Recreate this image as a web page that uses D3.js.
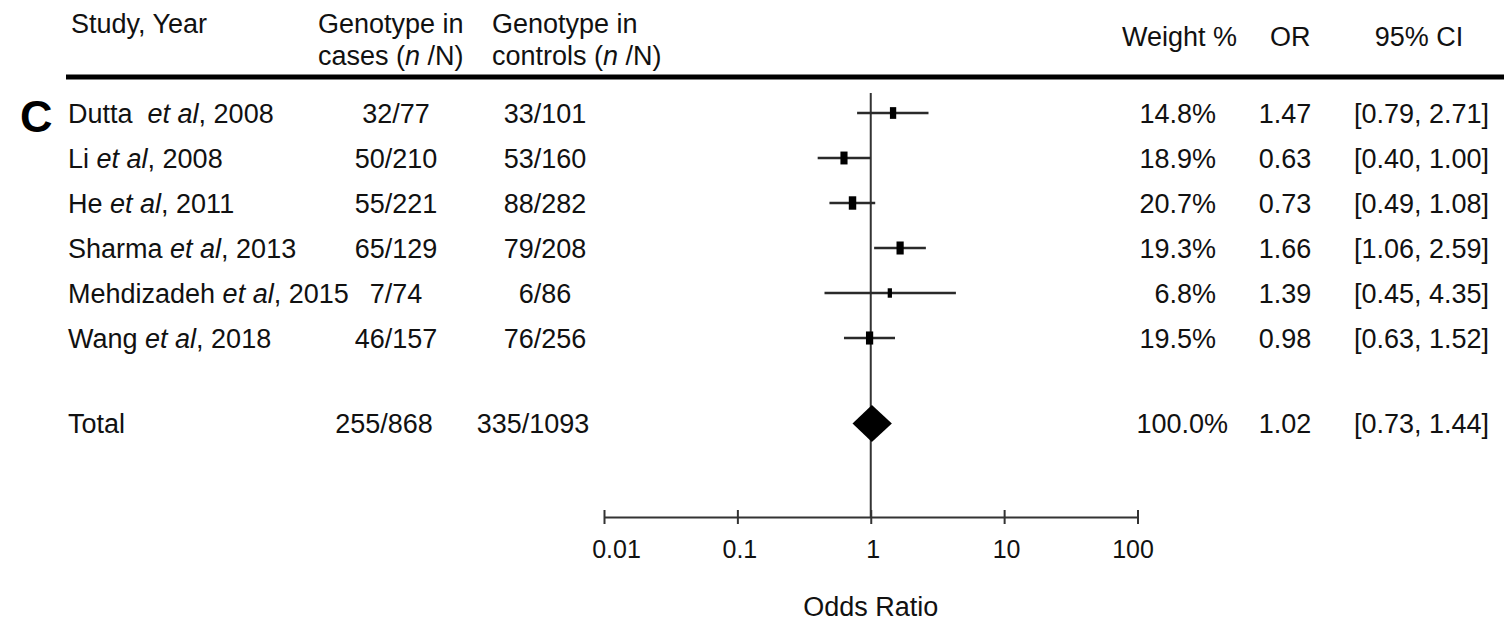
<!DOCTYPE html>
<html lang="en">
<head>
    <meta charset="utf-8">
    <title>Forest plot C</title>
    <script src="https://d3js.org/d3.v7.min.js"></script>
    <style>
        body {
            margin: 0;
            padding: 0;
            background: #fff;
        }
        svg text {
            font-family: Arial, "Liberation Sans", sans-serif;
            font-size: 27px;
            fill: #111;
            white-space: pre;
        }
        .axis text {
            font-size: 25px;
        }
    </style>
</head>
<body>
<svg id="chart"></svg>
<script>
    // study rows
    const authors = ["Dutta ", "Li", "He", "Sharma", "Mehdizadeh", "Wang"];
    const years = [2008, 2008, 2011, 2013, 2015, 2018];
    const caseEvents = [32, 50, 55, 65, 7, 46];
    const caseTotals = [77, 210, 221, 129, 74, 157];
    const ctrlEvents = [33, 53, 88, 79, 6, 76];
    const ctrlTotals = [101, 160, 282, 208, 86, 256];
    const weights = [14.8, 18.9, 20.7, 19.3, 6.8, 19.5];
    const oddsRatios = [1.47, 0.63, 0.73, 1.66, 1.39, 0.98];
    const ciLow = [0.79, 0.40, 0.49, 1.06, 0.45, 0.63];
    const ciHigh = [2.71, 1.00, 1.08, 2.59, 4.35, 1.52];

    // pooled estimate
    const pooledOR = 1.02;
    const pooledLow = 0.73;
    const pooledHigh = 1.44;
    const pooledWeight = 100.0;

    const axisTicks = [0.01, 0.1, 1, 10, 100];

    const width = 1504;
    const height = 622;

    const svg = d3.select("#chart")
        .attr("width", width)
        .attr("height", height);

    const x = d3.scaleLog().domain([0.01, 100]).range([604, 1137.5]);
    const y = d3.scaleLinear().domain([0, 1]).range([113, 158]);
    const totalRow = 6.9;
    const axisY = 517;

    const col = {
        study: 68,
        cases: 396,
        controls: 545,
        weight: 1216,
        or: 1285,
        ci: 1489
    };

    const fmt2 = d3.format(".2f");
    const fmt1 = d3.format(".1f");

    // panel letter
    svg.append("text")
        .attr("x", 20)
        .attr("y", 132)
        .style("font-size", "45px")
        .style("font-weight", "bold")
        .style("fill", "#000")
        .text("C");

    // header
    const header = svg.append("g");
    header.append("text").attr("x", 71).attr("y", 33).text("Study, Year");

    function twoLine(xPos, second) {
        header.append("text").attr("x", xPos).attr("y", 33).text("Genotype in");
        const t = header.append("text").attr("x", xPos).attr("y", 65);
        t.append("tspan").text(second + " (");
        t.append("tspan").style("font-style", "italic").text("n");
        t.append("tspan").text(" /N)");
    }
    twoLine(318, "cases");
    twoLine(492, "controls");

    header.append("text").attr("x", 1122).attr("y", 46).text("Weight %");
    header.append("text").attr("x", 1270).attr("y", 46).text("OR");
    header.append("text").attr("x", 1419).attr("y", 46).attr("text-anchor", "middle").text("95% CI");

    header.append("line")
        .attr("x1", 66).attr("x2", width)
        .attr("y1", 77).attr("y2", 77)
        .attr("stroke", "#000")
        .attr("stroke-width", 5);

    // table rows
    const rows = authors.map((a, i) => ({
        i,
        author: a,
        year: years[i],
        cases: caseEvents[i] + "/" + caseTotals[i],
        controls: ctrlEvents[i] + "/" + ctrlTotals[i],
        weight: weights[i],
        or: oddsRatios[i],
        lo: ciLow[i],
        hi: ciHigh[i]
    }));

    const rowG = svg.append("g").selectAll("g")
        .data(rows)
        .join("g")
        .attr("transform", d => `translate(0,${y(d.i) + 9.5})`);

    const label = rowG.append("text").attr("x", col.study);
    label.append("tspan").text(d => d.author + " ");
    label.append("tspan").style("font-style", "italic").text("et al");
    label.append("tspan").text(d => ", " + d.year);

    rowG.append("text").attr("x", col.cases).attr("text-anchor", "middle").text(d => d.cases);
    rowG.append("text").attr("x", col.controls).attr("text-anchor", "middle").text(d => d.controls);
    rowG.append("text").attr("x", col.weight).attr("text-anchor", "end").text(d => fmt1(d.weight) + "%");
    rowG.append("text").attr("x", col.or).attr("text-anchor", "middle").text(d => fmt2(d.or));
    rowG.append("text").attr("x", col.ci).attr("text-anchor", "end")
        .text(d => `[${fmt2(d.lo)}, ${fmt2(d.hi)}]`);

    // total row
    const totalG = svg.append("g").attr("transform", `translate(0,${y(totalRow) + 9.5})`);
    totalG.append("text").attr("x", col.study).text("Total");
    totalG.append("text").attr("x", col.cases - 12).attr("text-anchor", "middle")
        .text(d3.sum(caseEvents) + "/" + d3.sum(caseTotals));
    totalG.append("text").attr("x", col.controls - 12).attr("text-anchor", "middle")
        .text(d3.sum(ctrlEvents) + "/" + d3.sum(ctrlTotals));
    totalG.append("text").attr("x", col.weight + 12).attr("text-anchor", "end").text(fmt1(pooledWeight) + "%");
    totalG.append("text").attr("x", col.or).attr("text-anchor", "middle").text(fmt2(pooledOR));
    totalG.append("text").attr("x", col.ci).attr("text-anchor", "end")
        .text(`[${fmt2(pooledLow)}, ${fmt2(pooledHigh)}]`);

    // reference line at OR = 1
    svg.append("line")
        .attr("x1", x(1)).attr("x2", x(1))
        .attr("y1", 93).attr("y2", axisY)
        .attr("stroke", "#333")
        .attr("stroke-width", 2);

    // confidence intervals and boxes
    const markW = d3.scaleSqrt().domain([0, 21]).range([0, 7.5]);
    const markH = d3.scaleLinear().domain([0, 21]).range([7.5, 13.5]);

    const plot = svg.append("g");
    plot.selectAll("line.ci")
        .data(rows)
        .join("line")
        .attr("class", "ci")
        .attr("x1", d => x(d.lo))
        .attr("x2", d => x(d.hi))
        .attr("y1", d => y(d.i))
        .attr("y2", d => y(d.i))
        .attr("stroke", "#2a2a2a")
        .attr("stroke-width", 2.6);

    plot.selectAll("rect.box")
        .data(rows)
        .join("rect")
        .attr("class", "box")
        .attr("x", d => x(d.or) - markW(d.weight) / 2)
        .attr("y", d => y(d.i) - markH(d.weight) / 2)
        .attr("width", d => markW(d.weight))
        .attr("height", d => markH(d.weight))
        .attr("fill", "#000");

    // pooled diamond
    const cy = y(totalRow);
    const dh = 18.5;
    plot.append("path")
        .attr("d", `M${x(pooledLow)},${cy}L${x(pooledOR)},${cy - dh}L${x(pooledHigh)},${cy}L${x(pooledOR)},${cy + dh}Z`)
        .attr("fill", "#000");

    // x axis
    const axis = svg.append("g")
        .attr("class", "axis")
        .attr("transform", `translate(0,${axisY})`)
        .call(d3.axisBottom(x)
            .tickValues(axisTicks)
            .tickFormat(d => String(d))
            .tickSizeOuter(0));

    axis.select(".domain").attr("stroke", "#333").attr("stroke-width", 2);
    axis.selectAll(".tick line")
        .attr("y1", -7)
        .attr("y2", 7)
        .attr("stroke", "#333")
        .attr("stroke-width", 2);
    axis.selectAll(".tick text")
        .attr("y", 41)
        .attr("dy", 0)
        .attr("dx", (d, i) => i === 0 ? 12 : (i === axisTicks.length - 1 ? -5 : 2))
        .attr("fill", "#111");

    svg.append("text")
        .attr("x", x(1))
        .attr("y", 616)
        .attr("text-anchor", "middle")
        .text("Odds Ratio");
</script>
</body>
</html>
